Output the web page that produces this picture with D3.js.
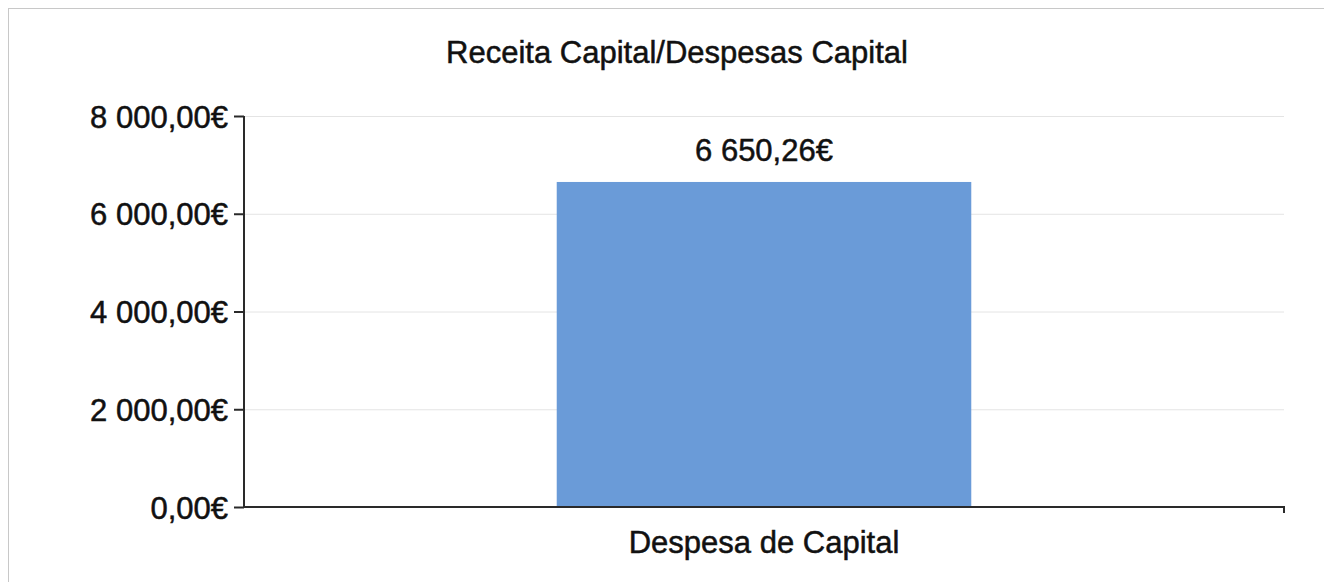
<!DOCTYPE html>
<html>
<head>
    <title>Receita Capital/Despesas Capital</title>
    <meta charset="utf-8">
    <style>
        body { margin: 0; background: #fff; }
        text { font-family: "Liberation Sans", Arial, sans-serif; fill: #111; stroke: #111; stroke-width: 0.5; }
    </style>
</head>
<body>

<svg id="svg"></svg>
<script src="https://cdn.jsdelivr.net/npm/d3@7"></script>
<script>
    const categories = ['Despesa de Capital']
    const values = [6650.26]
    const yTicks = [0, 2000, 4000, 6000, 8000]

    const WIDTH = 1324
    const HEIGHT = 582
    const margin = {top: 116, right: 40, bottom: 75, left: 244}

    const fmt = (v) => d3.format(',.2f')(v).replace(/,/g, ' ').replace('.', ',') + '€'

    const svg = d3.select('svg')
        .attr('width', WIDTH)
        .attr('height', HEIGHT)

    // outer frame (scanned page edge)
    svg.append('rect')
        .attr('x', 8.5).attr('y', 8.5)
        .attr('width', WIDTH).attr('height', HEIGHT)
        .attr('fill', 'none')
        .attr('stroke', '#c8c8c8')

    const x = d3.scaleBand()
        .domain(categories)
        .range([margin.left, WIDTH - margin.right])
        .padding(0.43)

    const y = d3.scaleLinear()
        .domain([0, 8000])
        .range([HEIGHT - margin.bottom, margin.top])

    // gridlines
    svg.append('g')
        .selectAll('line')
        .data(yTicks.slice(1))
        .enter().append('line')
        .attr('x1', margin.left)
        .attr('x2', WIDTH - margin.right)
        .attr('y1', d => y(d) + 0.5)
        .attr('y2', d => y(d) + 0.5)
        .attr('stroke', '#e4e4e4')

    svg.append('g')
        .selectAll('rect')
        .data(values)
        .enter().append('rect')
        .attr('x', (d, i) => x(categories[i]))
        .attr('y', d => y(d))
        .attr('width', x.bandwidth())
        .attr('height', d => y(0) - y(d))
        .attr('fill', '#6a9bd8')

    svg.append('g')
        .selectAll('text')
        .data(values)
        .enter().append('text')
        .attr('x', (d, i) => x(categories[i]) + x.bandwidth() / 2)
        .attr('y', d => y(d) - 21)
        .attr('text-anchor', 'middle')
        .attr('font-size', 31)
        .text(d => fmt(d))

    // y axis
    const yAxis = svg.append('g')
        .attr('transform', `translate(${margin.left},0)`)
        .call(d3.axisLeft(y).tickValues(yTicks).tickFormat(fmt).tickSize(10).tickPadding(6))
    yAxis.selectAll('path, line').attr('stroke', '#2a2a2a').attr('stroke-width', 2)
    yAxis.selectAll('text').attr('font-size', 31).attr('dy', '0.36em').attr('fill', '#111')
    yAxis.select('.domain').attr('d', `M0,${margin.top}V${y(0)}`)

    // x axis
    const xAxis = svg.append('g')
        .attr('transform', `translate(0,${y(0)})`)
        .call(d3.axisBottom(x).tickSize(0).tickPadding(24))
    xAxis.select('.domain')
        .attr('d', `M${margin.left},0H${WIDTH - margin.right}V6`)
        .attr('stroke', '#2a2a2a').attr('stroke-width', 2).attr('fill', 'none')
    xAxis.selectAll('text').attr('font-size', 31).attr('fill', '#111')

    svg.append('text')
        .attr('x', 677)
        .attr('y', 63)
        .attr('text-anchor', 'middle')
        .attr('font-size', 31)
        .text('Receita Capital/Despesas Capital')
</script>
</body>
</html>
